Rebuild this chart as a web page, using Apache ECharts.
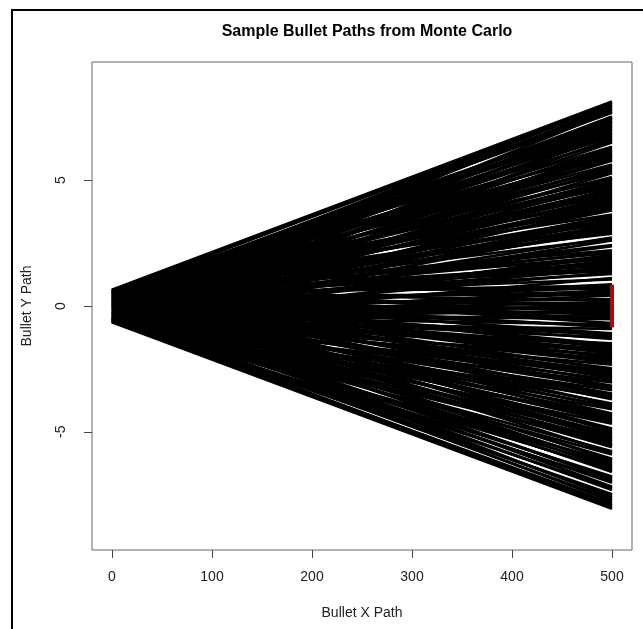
<!DOCTYPE html>
<html>
<head>
<meta charset="utf-8">
<script src="https://cdn.jsdelivr.net/npm/echarts@6/dist/echarts.min.js"></script>
<style>
html,body{margin:0;padding:0;background:#fff;}
#chart{width:643px;height:629px;}
</style>
</head>
<body>
<div id="chart"></div>
<script>
// y at x=0 for each sampled path
var startY = [
  0.64, 0.55, 0.31, 0.60, -0.12, 0.43, 0.18, -0.35, 0.50, 0.07,
  -0.48, 0.26, 0.58, -0.21, 0.11, 0.47, -0.57, 0.35, -0.03, 0.62,
  0.21, -0.40, 0.53, -0.09, 0.38, -0.62, 0.14, 0.57, -0.27, 0.45,
  -0.16, 0.29, -0.51, 0.63, 0.02, -0.33, 0.49, -0.58, 0.24, -0.05,
  0.41, -0.44, 0.12, 0.59, -0.19, 0.33, -0.60, 0.06, 0.52, -0.37,
  0.17, -0.54, 0.44, -0.11, 0.61, -0.29, 0.09, -0.47, 0.36, -0.02,
  0.55, -0.23, 0.27, -0.61, 0.48, 0.01, -0.39, 0.19, -0.56, 0.40,
  -0.08, 0.60, -0.31, 0.13, -0.50, 0.34, -0.14, 0.56, -0.42, 0.22,
  -0.64, 0.46, -0.18, 0.04, 0.58, -0.36, 0.28, -0.53, 0.10, -0.25,
  0.51, -0.06, 0.37, -0.59, 0.20, -0.30, 0.62, -0.45, 0.15, -0.13,
  0.42, -0.55, 0.25, -0.01, 0.54, -0.38, 0.08, -0.63, 0.32, -0.20,
  0.47, -0.10, 0.60, -0.46, 0.16, -0.28, 0.39, -0.57, 0.03, 0.52,
  -0.34, 0.23, -0.62, 0.44, -0.15, 0.11, -0.49, 0.58, -0.04, 0.30,
  -0.52, 0.19, -0.26, 0.63, -0.41, 0.05, 0.36, -0.60, 0.26, -0.17,
  0.49, -0.32, 0.14, -0.58, 0.40, -0.07, 0.57, -0.43, 0.21, -0.22,
  0.34, -0.64, 0.09, 0.53, -0.35, 0.27, -0.12, 0.61, -0.48, 0.00,
  0.45, -0.24, 0.18, -0.56, 0.38, -0.03, 0.55, -0.40, 0.12, -0.61,
  0.29, -0.14, 0.50, -0.47, 0.07, -0.30, 0.43, -0.53, 0.22, -0.09,
  0.59, -0.37, 0.16, -0.62, 0.35, -0.19, 0.04, -0.44, 0.48, -0.27,
  0.10, -0.57, 0.31, -0.06, 0.54, -0.50, 0.24, -0.33, -0.11, 0.41,
  -0.45, 0.02, -0.59, 0.37, -0.21, 0.13, -0.38, 0.46, -0.52, -0.01,
  0.25, -0.63, -0.16, 0.32, -0.42, 0.08, -0.55, -0.23, 0.19, -0.47,
  -0.08, 0.12, -0.58, -0.31, 0.06, -0.50, -0.20, -0.61, -0.36, 0.03,
  -0.44, -0.27, -0.62, -0.52, -0.58, -0.64
];
// y at x=500 for each path
var endY = [
  8.13, 8.08, 8.02, 7.97, 7.93, 7.86, 7.81, 7.74, 7.69, 7.53,
  7.49, 7.44, 7.38, 7.33, 7.29, 7.22, 7.17, 7.12, 7.05, 7.01,
  6.95, 6.89, 6.84, 6.77, 6.73, 6.66, 6.61, 6.55, 6.50, 6.33,
  6.29, 6.22, 6.17, 6.12, 6.05, 6.00, 5.94, 5.89, 5.82, 5.78,
  5.62, 5.57, 5.51, 5.45, 5.40, 5.33, 5.28, 5.12, 5.08, 5.02,
  4.95, 4.91, 4.84, 4.79, 4.73, 4.66, 4.62, 4.55, 4.50, 4.44,
  4.38, 4.33, 4.26, 4.21, 4.15, 4.09, 4.04, 3.97, 3.92, 3.86,
  3.80, 3.63, 3.58, 3.52, 3.46, 3.41, 3.34, 3.29, 3.23, 3.17,
  3.12, 3.05, 3.00, 2.94, 2.88, 2.72, 2.67, 2.61, 2.42, 2.38,
  2.21, 2.16, 2.10, 2.03, 1.98, 1.92, 1.86, 1.81, 1.74, 1.69,
  1.63, 1.57, 1.52, 1.45, 1.40, 1.34, 1.28, 1.11, 1.06, 0.86,
  0.81, 0.75, 0.68, 0.63, 0.57, 0.51, 0.46, 0.42, 0.27, 0.22,
  0.16, 0.10, 0.05, -0.01, -0.07, -0.12, -0.18, -0.24, -0.29, -0.35,
  -0.41, -0.46, -0.52, -0.68, -0.73, -0.79, -0.85, -0.91, -1.09, -1.14,
  -1.20, -1.26, -1.31, -1.49, -1.54, -1.60, -1.66, -1.71, -1.77, -1.83,
  -1.88, -1.94, -2.00, -2.06, -2.11, -2.17, -2.23, -2.28, -2.33, -2.48,
  -2.53, -2.59, -2.65, -2.70, -2.76, -2.82, -2.87, -2.93, -2.99, -3.04,
  -3.18, -3.23, -3.29, -3.34, -3.48, -3.53, -3.59, -3.64, -3.70, -3.88,
  -3.93, -3.99, -4.05, -4.10, -4.28, -4.33, -4.39, -4.45, -4.51, -4.56,
  -4.62, -4.68, -4.87, -4.92, -4.98, -5.04, -5.09, -5.15, -5.21, -5.27,
  -5.32, -5.38, -5.44, -5.50, -5.55, -5.61, -5.78, -5.84, -5.90, -6.08,
  -6.13, -6.19, -6.25, -6.31, -6.36, -6.42, -6.48, -6.54, -6.60, -6.78,
  -6.84, -6.90, -6.96, -7.02, -7.19, -7.25, -7.31, -7.49, -7.55, -7.62,
  -7.70, -7.76, -7.85, -7.93, -8.00, -8.06
];
var pathX = [0, 500];
// target segment at x=500
var targetX = 500;
var targetY = [-0.85, 0.85];
var xTicks = [0, 100, 200, 300, 400, 500];
var yTicks = [-5, 0, 5];

var chart = echarts.init(document.getElementById('chart'));
var font = 'Liberation Sans, Arial, sans-serif';

var paths = [];
var n = Math.min(startY.length, endY.length);
for (var i = 0; i < n; i++) {
  paths.push({coords: [[pathX[0], startY[i]], [pathX[1], endY[i]]]});
}

var option = {
  animation: false,
  backgroundColor: '#fff',
  title: {
    text: 'Sample Bullet Paths from Monte Carlo',
    left: 362,
    top: 19,
    textAlign: 'center',
    textStyle: {fontFamily: font, fontSize: 16, fontWeight: 'bold', color: '#000'}
  },
  graphic: [{
    type: 'rect',
    shape: {x: 12, y: 10, width: 700, height: 700},
    style: {fill: 'none', stroke: '#000', lineWidth: 2},
    silent: true
  }],
  grid: {
    left: 92, right: 11, top: 62, bottom: 79,
    show: true, borderColor: '#666', borderWidth: 1, backgroundColor: 'transparent'
  },
  xAxis: {
    type: 'value', min: -20, max: 520,
    name: 'Bullet X Path', nameLocation: 'middle', nameGap: 56,
    nameTextStyle: {fontFamily: font, fontSize: 14, color: '#222'},
    axisLine: {show: false, onZero: false},
    axisTick: {show: true, length: 8, customValues: xTicks, lineStyle: {color: '#444'}},
    axisLabel: {customValues: xTicks, margin: 20, fontFamily: font, fontSize: 14, color: '#222'},
    splitLine: {show: false}
  },
  yAxis: {
    type: 'value', min: -9.7, max: 9.7,
    name: 'Bullet Y Path', nameLocation: 'middle', nameGap: 58, nameRotate: 90,
    nameTextStyle: {fontFamily: font, fontSize: 14, color: '#222'},
    axisLine: {show: false, onZero: false},
    axisTick: {show: true, length: 8, customValues: yTicks, lineStyle: {color: '#444'}},
    axisLabel: {customValues: yTicks, rotate: 90, margin: 24, fontFamily: font, fontSize: 14, color: '#222'},
    splitLine: {show: false}
  },
  series: [{
    type: 'lines',
    coordinateSystem: 'cartesian2d',
    silent: true,
    lineStyle: {color: '#000', width: 2.8, opacity: 1},
    data: paths
  }, {
    type: 'lines',
    coordinateSystem: 'cartesian2d',
    silent: true,
    z: 5,
    lineStyle: {color: '#a30f0f', width: 4, opacity: 1},
    data: [{coords: [[targetX, targetY[0]], [targetX, targetY[1]]]}]
  }]
};
chart.setOption(option);
</script>
</body>
</html>
